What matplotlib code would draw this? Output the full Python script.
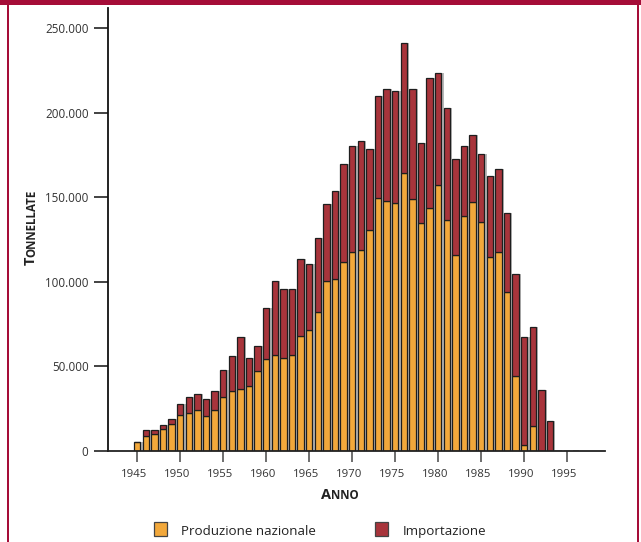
import matplotlib
matplotlib.use("Agg")
import matplotlib.pyplot as plt
import matplotlib.transforms as mtransforms
from matplotlib.patches import Rectangle
import numpy as np

plt.rcParams['font.family'] = ['Open Sans', 'DejaVu Sans']

# Data (tonnes per year)
years = list(range(1945, 1994))
produzione = [5300, 8900, 10000, 13000, 16000, 21300, 22500, 24200, 20700, 24200,
              32000, 35500, 36600, 38400, 47300, 54400, 56700, 55000, 56700, 68000,
              71500, 82200, 100500, 102000, 112000, 117600, 119000, 130600, 149600, 147700,
              146600, 164300, 149000, 134800, 143600, 157200, 136500, 115800, 138900, 147100,
              135300, 114700, 117600, 94000, 44300, 3500, 14800, 0, 0]
totale = [5300, 12400, 12400, 15400, 19000, 27800, 32000, 33700, 30700, 35500,
          47900, 56000, 67400, 55000, 62000, 84500, 100500, 95700, 95700, 113500,
          110500, 126000, 146000, 154000, 170000, 180300, 183200, 178500, 209800, 214000,
          212800, 241100, 214000, 182000, 220500, 223400, 202700, 172600, 180300, 186800,
          175500, 162500, 166700, 140700, 104600, 67400, 73300, 36000, 17700]
importazione = [t - p for t, p in zip(totale, produzione)]

yticks = [0, 50000, 100000, 150000, 200000, 250000]
ytick_labels = ['0', '50.000', '100.000', '150.000', '200.000', '250.000']
xticks = list(range(1945, 2000, 5))

col_prod = '#F2A83B'
col_imp = '#A8343B'
col_edge = '#1E1E1E'
col_frame = '#A50D38'
col_text = '#222222'

fig = plt.figure(figsize=(6.41, 5.42), dpi=100)
ax = fig.add_axes([0.1685, 0.1679, 0.7753, 0.8173])

x = np.array(years)
w = 0.75
# gray drop shadow behind each bar
ax.bar(x + 0.25, totale, width=w, color='#A0A0A0', alpha=0.75, zorder=1)
ax.bar(x, produzione, width=w, color=col_prod, edgecolor=col_edge, linewidth=0.9, zorder=2)
ax.bar(x, importazione, bottom=produzione, width=w, color=col_imp,
       edgecolor=col_edge, linewidth=0.9, zorder=2)
# tiny stubs after 1993
ax.bar([1994, 1995, 1996], [600, 600, 600], width=w, color='#BBBBBB', zorder=1)

ax.set_xlim(1941.6, 1999.4)
ax.set_ylim(0, 262000)

ax.set_yticks(yticks)
ax.set_yticklabels(ytick_labels)
ax.set_xticks(xticks)
ax.set_xticklabels([str(v) for v in xticks])

for s in ['top', 'right']:
    ax.spines[s].set_visible(False)
ax.spines['left'].set_color('#111111')
ax.spines['left'].set_linewidth(1.3)
ax.spines['bottom'].set_color('#222222')
ax.spines['bottom'].set_linewidth(1.3)

ax.tick_params(axis='y', direction='out', length=10, width=1.2, color='#222222',
               labelsize=8.4, labelcolor='#333333', pad=4)
ax.tick_params(axis='x', direction='out', length=8, width=1.2, color='#555555',
               labelsize=8.2, labelcolor='#333333', pad=5)

# x labels sit slightly left of their ticks in the reference
shift = mtransforms.ScaledTranslation(-3 / 100, 0, fig.dpi_scale_trans)
for lab in ax.get_xticklabels():
    lab.set_transform(lab.get_transform() + shift)

# small-caps axis labels
fig.text(331 / 641, 1 - 499 / 542, 'A', ha='right', va='baseline', fontsize=10.5,
         fontweight='bold', color=col_text)
fig.text(331 / 641, 1 - 499 / 542, 'NNO', ha='left', va='baseline', fontsize=8.3,
         fontweight='bold', color=col_text)
fig.text(35 / 641, 1 - 257 / 542, 'T', ha='right', va='baseline', rotation=90,
         rotation_mode='anchor', fontsize=10.5, fontweight='bold', color=col_text)
fig.text(35 / 641, 1 - 257 / 542, 'ONNELLATE', ha='left', va='baseline', rotation=90,
         rotation_mode='anchor', fontsize=8.3, fontweight='bold', color=col_text)

# legend
fig.patches.append(Rectangle((154 / 641, 1 - 536 / 542), 13 / 641, 14 / 542,
                             transform=fig.transFigure, facecolor=col_prod,
                             edgecolor='#444444', linewidth=0.9))
fig.text(181 / 641, 1 - 535 / 542, 'Produzione nazionale', ha='left', va='baseline',
         fontsize=9.6, color=col_text)
fig.patches.append(Rectangle((375 / 641, 1 - 536 / 542), 13 / 641, 14 / 542,
                             transform=fig.transFigure, facecolor=col_imp,
                             edgecolor='#444444', linewidth=0.9))
fig.text(403 / 641, 1 - 535 / 542, 'Importazione', ha='left', va='baseline',
         fontsize=9.6, color=col_text)

# crimson frame
fig.patches.append(Rectangle((0, 1 - 5 / 542), 1, 5 / 542, transform=fig.transFigure,
                             facecolor=col_frame, edgecolor='none'))
fig.patches.append(Rectangle((7 / 641, 0), 2 / 641, 1, transform=fig.transFigure,
                             facecolor=col_frame, edgecolor='none'))
fig.patches.append(Rectangle((637 / 641, 0), 2 / 641, 1, transform=fig.transFigure,
                             facecolor=col_frame, edgecolor='none'))

fig.savefig('out.png', dpi=100, facecolor='white')
